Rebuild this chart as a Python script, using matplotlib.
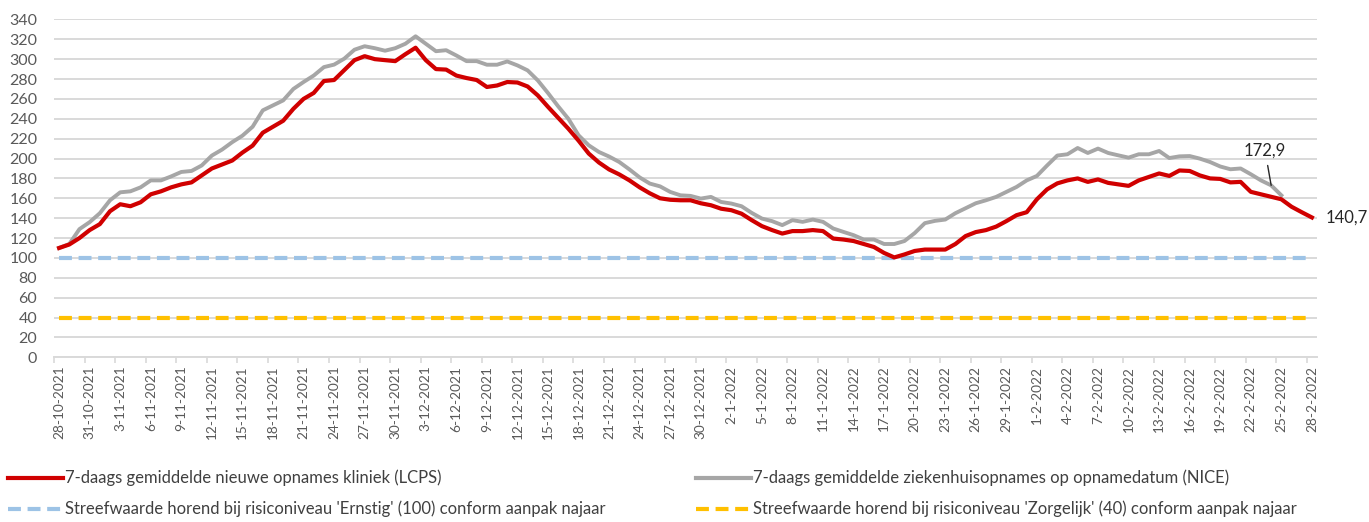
import numpy as np
import pandas as pd
import matplotlib
matplotlib.use("Agg")
import matplotlib.pyplot as plt
from matplotlib.lines import Line2D

plt.rcParams['font.family'] = ['Lato', 'DejaVu Sans']

# ---------------------------------------------------------------
# data, one value per day 28-10-2021 .. 28-2-2022
# ---------------------------------------------------------------
dates = pd.date_range("2021-10-28", "2022-02-28", freq="D")
date_labels = [f"{d.day}-{d.month}-{d.year}" for d in dates]

lcps = [110, 113.5, 120, 128, 134, 147, 154, 152, 156, 164,
        167, 171, 174, 176, 183, 190, 194, 198, 206, 213,
        226, 232, 238, 250, 260, 266, 278, 279, 289, 299,
        303, 300, 299, 298, 305, 311.5, 299, 290, 289.5, 283.5,
        281, 279, 272, 273.5, 277, 276.5, 272.5, 263.5, 252, 241,
        230, 218, 205, 196, 189, 184, 178, 171, 165, 160,
        158.5, 158, 158, 155, 153, 149.5, 148, 144.5, 138, 132,
        128, 124.5, 127, 127, 128, 127, 119.5, 118.5, 117, 114,
        111, 105, 100.5, 103.5, 107, 108.4, 108.4, 108.4, 114, 122,
        126, 128, 131.5, 137, 143, 146, 159, 169, 175, 178,
        180, 176.5, 179, 175.5, 174, 172.5, 178, 181.5, 185, 182.5,
        188, 187.5, 183, 180, 179.5, 176, 176.5, 166.5, 164, 161.5,
        159, 151.5, 146, 140.7]

nice = [110, 114, 129, 136, 145, 158, 166, 167, 171, 178,
        178, 182, 186.5, 187.5, 193, 203, 209, 216.5, 223, 232,
        248.5, 253.5, 258.5, 270, 277, 283.5, 292, 294.5, 300.5, 309.5,
        313, 311, 308.5, 311, 315.5, 323, 315.5, 308, 309, 303.7,
        298, 298, 294.4, 294.4, 297.7, 293.7, 288.7, 278.6, 265.9, 252.5,
        240, 223.4, 213.3, 206.6, 202, 196.5, 189, 181, 174.8, 172,
        166.4, 163, 162.4, 159.7, 161.4, 156.3, 154.7, 152, 145.3, 139.6,
        137, 133, 138, 136.3, 138.6, 136.3, 129.6, 126.2, 122.9, 118.5,
        118.5, 114, 114, 117, 125, 135, 137.3, 138.6, 145, 150,
        155, 158, 161.4, 166.4, 171.4, 178, 182.5, 193, 203, 204.3,
        210.6, 205.6, 210, 205.6, 203.2, 200.9, 204.3, 204.3, 207.6, 200.5,
        202.2, 202.5, 199.9, 196.5, 192, 189.2, 190, 184.2, 178, 173,
        163]

ernstig = 100
zorgelijk = 40
label_lcps = "140,7"
label_nice = "172,9"

names = ["7-daags gemiddelde nieuwe opnames kliniek (LCPS)",
         "7-daags gemiddelde ziekenhuisopnames op opnamedatum (NICE)",
         "Streefwaarde horend bij risiconiveau 'Ernstig' (100) conform aanpak najaar",
         "Streefwaarde horend bij risiconiveau 'Zorgelijk' (40) conform aanpak najaar"]

c_red = '#d00000'
c_gray = '#a6a6a6'
c_blue = '#9dc3e6'
c_yellow = '#ffc000'
c_text = '#595959'

# ---------------------------------------------------------------
fig = plt.figure(figsize=(13.69, 5.22), dpi=100)
ax = fig.add_axes([54 / 1369, 1 - 357.3 / 522, 1263 / 1369, (357.3 - 19.4) / 522])

x = np.arange(len(dates))
ax.plot(x, [ernstig] * len(x), color=c_blue, lw=3, dashes=(3.1, 1.6), zorder=2)
ax.plot(x, [zorgelijk] * len(x), color=c_yellow, lw=3, dashes=(3.1, 1.6), zorder=2)
ax.plot(np.arange(len(nice)), nice, color=c_gray, lw=2.8, zorder=3)
ax.plot(x, lcps, color=c_red, lw=3, zorder=4)

ax.set_xlim(-0.5, len(x) - 0.5)
ax.set_ylim(0, 340)
ax.set_yticks(np.arange(0, 341, 20))
ax.grid(axis='y', color='#d9d9d9', lw=1.4, zorder=0)
ax.set_axisbelow(True)
for s in ['top', 'right', 'left']:
    ax.spines[s].set_visible(False)
ax.spines['bottom'].set_color('#d9d9d9')
ax.spines['bottom'].set_linewidth(1.4)

ax.set_xticks(x[::3])
ax.set_xticklabels(date_labels[::3], rotation=90, fontsize=9.8, color=c_text)
ax.set_xticks(np.arange(-0.5, len(x), 3), minor=True)
ax.tick_params(axis='x', which='major', length=0, pad=6)
ax.tick_params(axis='x', which='minor', length=4, color='#d9d9d9', width=1.2)
ax.tick_params(axis='y', length=0, pad=12, labelsize=11.5, labelcolor=c_text)

# labels at the ends of the lines
ax.annotate(label_lcps, xy=(x[-1], lcps[-1]), xytext=(10, 0),
            textcoords='offset points', fontsize=12, color='#262626',
            va='center', ha='left', annotation_clip=False)
ax.annotate(label_nice, xy=(119, nice[119]), xytext=(118.4, 208),
            textcoords='data', fontsize=12, color='#262626',
            va='center', ha='center', annotation_clip=False,
            arrowprops=dict(arrowstyle='-', color='#262626', lw=1,
                            shrinkA=3, shrinkB=0))

# legend below the chart
rows = [478 / 522, 509 / 522]
entries = [(8, 0, c_red, None), (696, 0, c_gray, None),
           (8, 1, c_blue, (3.1, 1.6)), (696, 1, c_yellow, (3.1, 1.6))]
for (xp, r, col, dash), name in zip(entries, names):
    y = 1 - rows[r]
    ln = Line2D([xp / 1369, (xp + 55) / 1369], [y, y], transform=fig.transFigure,
                color=col, lw=3)
    if dash:
        ln.set_dashes(dash)
    fig.add_artist(ln)
    fig.text((xp + 57) / 1369, y, name, fontsize=12, color='#404040',
             va='center', ha='left')

fig.savefig('out.png', dpi=100)
